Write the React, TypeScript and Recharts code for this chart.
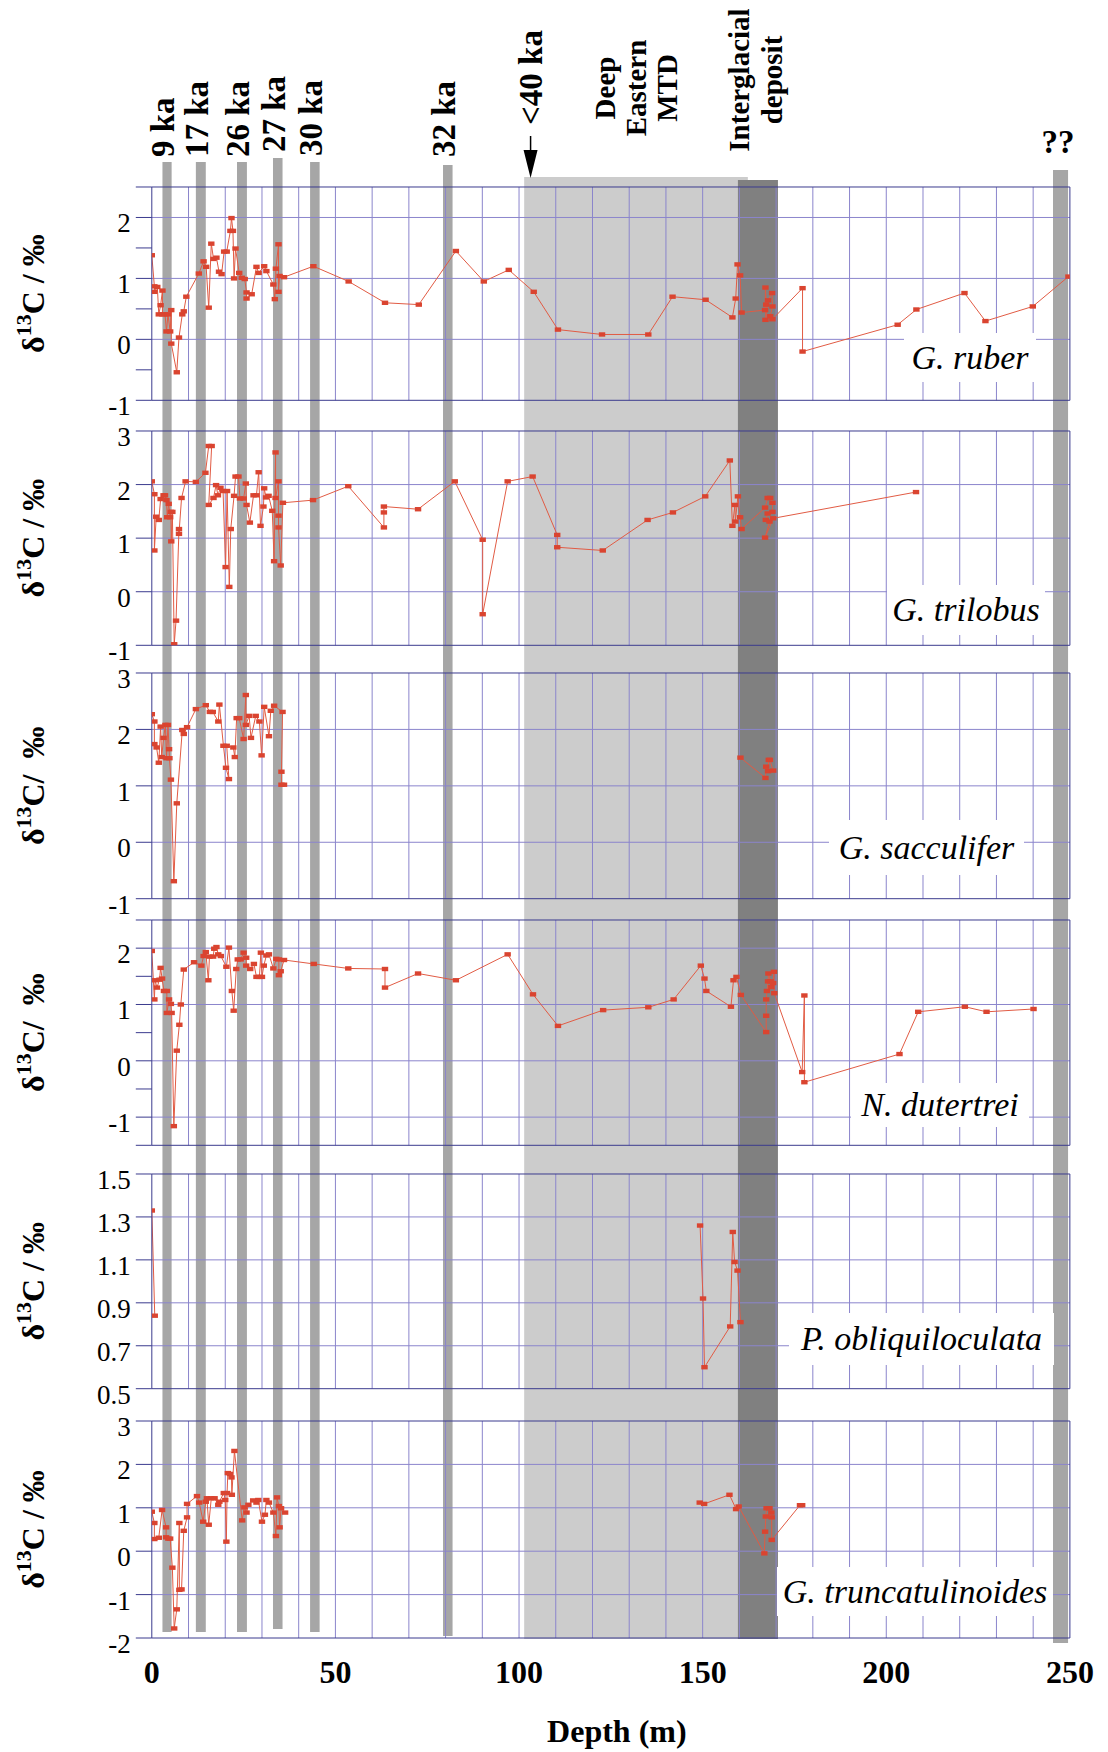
import React from "react";
import {
  ComposedChart,
  LineChart,
  Line,
  XAxis,
  YAxis,
  ReferenceLine,
  ReferenceArea,
} from "recharts";

type Pt = [number, number];

const SERIF = '"Liberation Serif", "Times New Roman", Times, serif';
const NAVY = "#3a3a8e";
const GRID = "#8b85cc";
const DOT = "#da4430";
const STROKE = "#e15a43";

// depth axis (m)
const depthTicks = [0, 50, 100, 150, 200, 250];
const depthGrid = [10, 20, 30, 40, 50, 60, 70, 80, 90, 100, 110, 120, 130, 140, 150, 160, 170, 180, 190, 200, 210, 220, 230, 240];

// shaded intervals along depth
const bandText = [["9 ka"], ["17 ka"], ["26 ka"], ["27 ka"], ["30 ka"], ["32 ka"], ["Deep", "Eastern", "MTD"], ["Interglacial", "deposit"], ["??"]];
const bandFrom = [2.9, 12.0, 23.2, 33.0, 43.1, 79.3, 101.4, 159.6, 245.4];
const bandTo = [5.4, 14.7, 25.9, 35.6, 45.7, 81.9, 162.3, 170.5, 249.5];

// d13C series: [depth, value]
const ruber: Pt[] = [
  [0, 1.38], [0.7, 0.87], [0.7, 0.78], [1.5, 0.86], [1.9, 0.41], [2.4, 0.56], [2.9, 0.8], [2.9, 0.41], [3.6, 0.41], [4.0, 0.13],
  [4.4, 0.41], [5.0, 0.13], [5.3, 0.48], [5.3, -0.07], [6.8, -0.54], [7.4, 0.03], [8.3, 0.41], [8.7, 0.46], [9.4, 0.7], [12.8, 1.08],
  [14.1, 1.28], [14.8, 1.19], [15.5, 0.52], [16.2, 1.57], [16.8, 1.32], [17.6, 1.34], [18.3, 1.11], [19.0, 1.07], [19.7, 1.44], [20.4, 1.44],
  [21.4, 1.78], [21.7, 1.99], [22.1, 1.78], [22.4, 1.0], [22.8, 1.49], [23.8, 1.09], [24.5, 1.01], [25.3, 0.99], [25.8, 0.77], [25.8, 0.67],
  [27.2, 0.74], [28.5, 1.19], [29.1, 1.09], [30.6, 1.2], [31.2, 1.12], [33.1, 0.9], [33.5, 0.66], [33.8, 1.16], [34.5, 1.56], [34.5, 0.78],
  [34.8, 1.04], [36.0, 1.02], [44.0, 1.2], [53.6, 0.95], [63.5, 0.6], [72.7, 0.57], [82.8, 1.45], [90.4, 0.95], [97.2, 1.14], [104.0, 0.78],
  [110.6, 0.16], [122.6, 0.08], [135.2, 0.08], [141.8, 0.7], [150.8, 0.65], [158.1, 0.36], [159.0, 0.67], [159.5, 1.23], [160.2, 1.05], [160.6, 0.44],
  [167.0, 0.48], [167.1, 0.85], [167.3, 0.57], [167.1, 0.32], [167.8, 0.64], [168.9, 0.76], [169.0, 0.54], [168.4, 0.38], [169.0, 0.33], [177.2, 0.84],
  [177.2, -0.2], [203.1, 0.24], [208.2, 0.49], [221.3, 0.76], [227.0, 0.3], [239.9, 0.54], [249.6, 1.03],
];

const trilobus: Pt[] = [
  [0, 2.06], [0.7, 1.82], [0.7, 0.77], [1.2, 1.4], [1.9, 1.34], [2.4, 1.73], [3.2, 1.8], [3.6, 1.8], [4.0, 1.71], [4.2, 1.39],
  [4.6, 1.64], [5.0, 1.39], [5.2, 1.49], [5.3, 0.94], [5.6, 1.49], [6.1, -0.98], [6.6, -0.54], [7.4, 1.17], [7.4, 1.08], [8.1, 1.75],
  [9.2, 2.06], [12.0, 2.05], [14.6, 2.22], [15.5, 2.72], [16.3, 2.72], [15.5, 1.62], [16.8, 1.75], [17.5, 1.99], [18.0, 1.8], [18.7, 1.94],
  [19.4, 1.88], [20.1, 0.46], [20.5, 1.88], [21.1, 0.09], [21.5, 1.17], [22.4, 1.79], [22.8, 2.15], [23.6, 2.15], [24.0, 1.74], [25.0, 1.74],
  [25.6, 2.02], [25.8, 1.62], [26.7, 1.29], [27.7, 1.8], [28.5, 1.8], [29.1, 2.23], [29.6, 1.23], [30.4, 1.59], [30.6, 1.93], [31.1, 1.76],
  [31.8, 1.79], [32.8, 1.51], [33.3, 0.57], [33.7, 2.6], [33.7, 1.75], [34.5, 2.06], [34.5, 1.42], [34.5, 1.2], [35.1, 0.49], [35.7, 1.66],
  [43.9, 1.71], [53.5, 1.97], [63.2, 1.2], [63.2, 1.48], [63.2, 1.59], [72.5, 1.54], [82.5, 2.06], [90.1, 0.97], [90.1, -0.42], [96.9, 2.06],
  [103.7, 2.15], [110.4, 1.06], [110.4, 0.83], [122.8, 0.77], [135.0, 1.34], [141.9, 1.48], [150.7, 1.78], [157.4, 2.45], [158.1, 1.23], [158.8, 1.62],
  [158.9, 1.31], [159.6, 1.78], [160.2, 1.39], [160.6, 1.17], [167.0, 1.57], [167.7, 1.75], [168.4, 1.75], [169.0, 1.66], [169.0, 1.49], [167.7, 1.46],
  [167.2, 1.34], [168.2, 1.31], [167.0, 1.01], [169.2, 1.37], [208.1, 1.86],
];

const sacculiferUpper: Pt[] = [
  [0, 2.27], [0.7, 2.14], [0.7, 1.74], [1.3, 1.68], [1.9, 1.41], [2.4, 2.05], [2.7, 1.51], [3.2, 1.85], [3.7, 2.08], [4.0, 1.49],
  [4.4, 2.08], [4.7, 1.65], [4.8, 1.49], [5.2, 1.11], [6.0, -0.69], [6.8, 0.69], [8.3, 1.99], [8.7, 1.92], [9.6, 2.04], [12.0, 2.36],
  [14.7, 2.43], [15.8, 2.31], [16.6, 2.31], [18.1, 2.14], [18.4, 2.44], [19.5, 1.71], [20.2, 1.32], [21.0, 1.12], [20.4, 1.71], [22.2, 1.68],
  [22.6, 1.51], [23.1, 2.2], [23.8, 2.2], [25.0, 1.83], [25.6, 2.61], [25.6, 2.08], [26.5, 2.24], [27.0, 1.85], [28.3, 2.24], [29.3, 2.14],
  [29.9, 1.54], [30.6, 2.4], [31.9, 1.88], [32.4, 2.33], [33.3, 2.42], [35.6, 2.31], [35.3, 1.25], [35.3, 1.02], [36.0, 1.02],
];
const sacculiferLower: Pt[] = [
  [160.3, 1.5], [167.1, 1.14], [167.3, 1.34], [167.8, 1.26], [168.0, 1.46], [168.3, 1.46], [169.2, 1.27],
];

const dutertrei: Pt[] = [
  [0, 1.95], [0.7, 1.09], [0.9, 1.43], [1.4, 1.3], [2.1, 1.44], [2.4, 1.65], [2.8, 1.46], [3.3, 1.24], [4.1, 1.24], [4.1, 0.85],
  [4.7, 1.09], [5.2, 1.01], [5.4, 0.85], [6.0, -1.16], [6.8, 0.18], [7.5, 0.64], [7.9, 1.0], [8.7, 1.62], [11.5, 1.75], [13.5, 1.69],
  [14.1, 1.86], [14.7, 1.93], [15.4, 1.43], [15.7, 1.85], [16.7, 1.85], [17.0, 1.99], [17.6, 2.02], [18.1, 1.89], [18.8, 1.86], [20.3, 1.67],
  [21.0, 2.01], [21.8, 1.24], [22.3, 0.89], [23.0, 1.63], [23.4, 1.8], [24.2, 1.8], [25.0, 1.92], [25.7, 1.83], [25.7, 1.69], [26.8, 1.63],
  [27.8, 1.72], [28.5, 1.49], [29.3, 1.49], [29.7, 1.92], [30.0, 1.49], [30.5, 1.69], [31.2, 1.87], [31.9, 1.89], [33.1, 1.64], [33.9, 1.81],
  [34.6, 1.8], [34.6, 1.52], [35.1, 1.59], [36.0, 1.79], [44.1, 1.72], [53.5, 1.64], [63.5, 1.63], [63.5, 1.3], [72.5, 1.55], [82.8, 1.43],
  [96.9, 1.89], [103.8, 1.18], [110.6, 0.62], [122.9, 0.9], [135.2, 0.95], [142.1, 1.09], [149.5, 1.69], [150.5, 1.46], [151.0, 1.24], [157.7, 0.96],
  [158.4, 1.43], [159.2, 1.49], [160.4, 1.17], [167.3, 0.51], [167.3, 0.8], [167.3, 1.09], [167.5, 1.24], [167.8, 1.41], [167.9, 1.55], [168.5, 1.41],
  [168.7, 1.31], [169.2, 1.38], [169.4, 1.58], [169.5, 1.2], [177.1, -0.2], [177.7, 1.16], [177.7, -0.38], [203.6, 0.12], [208.7, 0.87], [221.4, 0.96],
  [227.3, 0.87], [240.1, 0.92],
];

const obliquiloculataUpper: Pt[] = [[0, 1.33], [0.8, 0.84]];
const obliquiloculataLower: Pt[] = [
  [149.3, 1.26], [150.1, 0.92], [150.5, 0.6], [157.5, 0.79], [158.2, 1.23], [158.7, 1.09], [159.5, 1.05], [160.3, 0.81],
];

const truncatulinoidesUpper: Pt[] = [
  [0, 0.91], [0.7, 0.65], [0.7, 0.28], [1.9, 0.31], [2.8, 0.95], [3.9, 0.55], [3.9, 0.32], [4.5, 0.29], [5.0, 0.29], [5.6, -0.38],
  [6.1, -1.78], [6.8, -1.34], [7.5, 0.65], [7.5, -0.89], [8.1, -0.88], [8.7, 0.47], [9.6, 0.78], [9.6, 1.09], [12.3, 1.27], [12.9, 1.12],
  [14.0, 0.68], [14.7, 1.14], [15.0, 1.22], [15.5, 0.61], [16.2, 1.22], [17.1, 1.22], [18.1, 1.07], [18.4, 1.14], [19.6, 1.34], [20.0, 1.18],
  [20.3, 0.22], [20.5, 1.34], [20.7, 1.8], [21.3, 1.78], [21.7, 1.7], [21.8, 1.3], [22.5, 2.31], [24.6, 0.71], [25.2, 1.01], [25.8, 0.89],
  [26.3, 1.07], [27.6, 1.17], [28.5, 1.12], [29.0, 1.18], [30.0, 0.68], [30.8, 0.84], [31.2, 1.18], [31.9, 1.12], [33.1, 0.89], [33.8, 0.35],
  [34.1, 1.24], [34.6, 1.04], [34.8, 0.55], [35.2, 0.99], [36.3, 0.89],
];
const truncatulinoidesLower: Pt[] = [
  [149.2, 1.12], [150.4, 1.09], [157.3, 1.3], [159.1, 0.97], [159.8, 1.03], [166.8, -0.05], [167.0, 0.45], [167.2, 0.8], [167.4, 0.99], [168.2, 0.99],
  [168.7, 0.89], [168.8, 0.78], [168.8, 0.26], [176.5, 1.06], [177.1, 1.06],
];

const speciesNames = ["G. ruber", "G. trilobus", "G. sacculifer", "N. dutertrei", "P. obliquiloculata", "G. truncatulinoides"];
const speciesSegments: Pt[][][] = [
  [ruber],
  [trilobus],
  [sacculiferUpper, sacculiferLower],
  [dutertrei],
  [obliquiloculataUpper, obliquiloculataLower],
  [truncatulinoidesUpper, truncatulinoidesLower],
];
const yDomains: [number, number][] = [[-1, 2.5], [-1, 3], [-1, 3], [-1.5, 2.5], [0.5, 1.5], [-2, 3]];
const yTicks = [
  [-1, -0.5, 0, 0.5, 1, 1.5, 2, 2.5],
  [-1, 0, 1, 2, 3],
  [-1, 0, 1, 2, 3],
  [-1.5, -1, -0.5, 0, 0.5, 1, 1.5, 2, 2.5],
  [0.5, 0.7, 0.9, 1.1, 1.3, 1.5],
  [-2, -1, 0, 1, 2, 3],
];
const yGrid = [[0, 1, 2], [0, 1, 2], [0, 1, 2], [-1, 0, 1, 2], [0.7, 0.9, 1.1, 1.3], [-1, 0, 1, 2]];
const yDecimals = [0, 0, 0, 0, 1, 0];
const yTitleTail = [" / ‰", " / ‰", "/  ‰", "/  ‰", " / ‰", " / ‰"];

// layout (page pixels)
const PAGE_W = 1108;
const PAGE_H = 1752;
const PLOT_LEFT = 151.8;
const PLOT_RIGHT = 1069.9;
const AXIS_W = 140;
const panelTop = [186.7, 430.7, 673.3, 920, 1174.3, 1421.3];
const panelBottom = [400, 645, 899, 1145.3, 1389, 1638.3];
const nameBox = [
  [904, 333, 132, 49],
  [887, 585, 158, 50],
  [829, 820, 195, 55],
  [851, 1083, 178, 44],
  [789, 1313, 265, 52],
  [777, 1567, 276, 49],
];
const bandOrder = [6, 7, 0, 1, 2, 3, 4, 5, 8];
const bandFill = ["#a6a6a6", "#a6a6a6", "#a6a6a6", "#a6a6a6", "#a6a6a6", "#a6a6a6", "#cccccc", "#808080", "#a6a6a6"];
const bandTopPx = [162, 162, 162, 158, 162, 165, 177, 180, 170];
const bandBottomPx = [1632, 1632, 1632, 1629, 1632, 1636, 1639, 1639, 1643];
const bandLabelBase = [157, 157, 157, 152, 156, 157, 88, 80, 153];

function BandLabel({ vb, i }: { vb: any; i: number }) {
  if (!vb) return null;
  const cx = vb.x + vb.width / 2;
  const lines = bandText[i];
  const common = { fontFamily: SERIF, fontWeight: "bold" as const, fill: "#000" };
  if (i === 8) {
    return (
      <text x={cx - 2.5} y={bandLabelBase[i]} textAnchor="middle" fontSize={33} {...common}>
        {lines[0]}
      </text>
    );
  }
  if (lines.length > 1) {
    const gap = i === 6 ? 31.3 : 32.8;
    const shift = i === 6 ? 0 : -2.6;
    const y = bandLabelBase[i];
    const extra =
      i === 6 ? (
        <g>
          <text
            transform={`rotate(-90 ${vb.x + 6.4} 125)`}
            x={vb.x + 6.4}
            y={125}
            dominantBaseline="central"
            fontSize={33}
            {...common}
          >
            {"<40 ka"}
          </text>
          <line x1={vb.x + 6.4} y1={136} x2={vb.x + 6.4} y2={152} stroke="#000" strokeWidth={1.5} />
          <path d={`M${vb.x - 0.6},150 L${vb.x + 13.4},150 L${vb.x + 6.4},178 Z`} fill="#000" />
        </g>
      ) : null;
    return (
      <g>
        {extra}
        {lines.map((t, k) => {
          const x = cx + shift + (k - (lines.length - 1) / 2) * gap;
          return (
            <text
              key={t}
              transform={`rotate(-90 ${x} ${y})`}
              x={x}
              y={y}
              textAnchor="middle"
              dominantBaseline="central"
              fontSize={29}
              {...common}
            >
              {t}
            </text>
          );
        })}
      </g>
    );
  }
  const x = cx - 4;
  const y = bandLabelBase[i];
  return (
    <text transform={`rotate(-90 ${x} ${y})`} x={x} y={y} dominantBaseline="central" fontSize={33} {...common}>
      {lines[0]}
    </text>
  );
}

function Bands() {
  return (
    <div style={{ position: "absolute", left: 0, top: 0 }}>
      <ComposedChart
        width={PAGE_W}
        height={PAGE_H}
        margin={{ top: 0, right: PAGE_W - PLOT_RIGHT, bottom: 0, left: PLOT_LEFT }}
      >
        <XAxis type="number" dataKey="d" domain={[0, 250]} allowDataOverflow hide height={0} />
        <YAxis type="number" domain={[0, PAGE_H]} allowDataOverflow reversed hide width={0} />
        {bandOrder.map((i) => (
          <ReferenceArea
            key={`band${i}`}
            x1={bandFrom[i]}
            x2={bandTo[i]}
            y1={bandTopPx[i]}
            y2={bandBottomPx[i]}
            fill={bandFill[i]}
            fillOpacity={1}
            stroke="none"
            ifOverflow="visible"
            label={(p: any) => <BandLabel vb={p.viewBox} i={i} />}
          />
        ))}
      </ComposedChart>
    </div>
  );
}

const square = (p: any) => {
  if (p.cx == null || p.cy == null) return <g key={`m${p.index}`} />;
  return <rect key={`m${p.index}`} x={p.cx - 3.2} y={p.cy - 2.2} width={6.4} height={4.4} fill={DOT} />;
};

function Panel({ i }: { i: number }) {
  const last = i === speciesNames.length - 1;
  const plotH = panelBottom[i] - panelTop[i];
  const xAxisH = last ? 120 : 0;
  const height = plotH + 20 + (last ? xAxisH : 20);
  const [lo, hi] = yDomains[i];
  const dec = yDecimals[i];
  return (
    <div style={{ position: "absolute", left: 0, top: panelTop[i] - 20, width: PAGE_W, height }}>
      <LineChart
        width={PAGE_W}
        height={height}
        margin={{ top: 20, right: PAGE_W - PLOT_RIGHT, bottom: last ? 0 : 20, left: PLOT_LEFT - AXIS_W }}
      >
        <XAxis
          type="number"
          dataKey="d"
          domain={[0, 250]}
          allowDataOverflow
          ticks={depthTicks}
          interval={0}
          hide={!last}
          height={xAxisH}
          axisLine={false}
          tickLine={false}
          tickSize={0}
          tickMargin={0}
          tick={(p: any) => (
            <text x={p.x} y={p.y + 45} textAnchor="middle" fontFamily={SERIF} fontWeight="bold" fontSize={32} fill="#000">
              {p.payload.value}
            </text>
          )}
          label={(p: any) =>
            p.viewBox ? (
              <text
                x={p.viewBox.x + p.viewBox.width / 2 + 6}
                y={p.viewBox.y + 104}
                textAnchor="middle"
                fontFamily={SERIF}
                fontWeight="bold"
                fontSize={32}
                fill="#000"
              >
                Depth (m)
              </text>
            ) : null
          }
        />
        <YAxis
          type="number"
          domain={[lo, hi]}
          allowDataOverflow
          ticks={yTicks[i]}
          interval={0}
          width={AXIS_W}
          tickSize={16}
          tickMargin={5}
          axisLine={{ stroke: NAVY, strokeWidth: 1 }}
          tickLine={{ stroke: NAVY, strokeWidth: 1 }}
          tick={(p: any) => {
            const v = p.payload.value as number;
            const txt = dec > 0 ? v.toFixed(dec) : Number.isInteger(v) ? String(v) : "";
            return (
              <text x={p.x} y={p.y + 15} textAnchor="end" fontFamily={SERIF} fontSize={27} fill="#000">
                {txt}
              </text>
            );
          }}
          label={(p: any) => {
            const vb = p.viewBox;
            if (!vb) return null;
            const cy = vb.y + vb.height / 2;
            const x = 44;
            return (
              <text
                transform={`rotate(-90 ${x} ${cy})`}
                x={x}
                y={cy}
                textAnchor="middle"
                fontFamily={SERIF}
                fontWeight="bold"
                fontSize={32}
                fill="#000"
                style={{ whiteSpace: "pre" }}
              >
                δ
                <tspan fontSize={22} dy={-13}>
                  13
                </tspan>
                <tspan dy={13}>{"C" + yTitleTail[i]}</tspan>
              </text>
            );
          }}
        />
        {yGrid[i].map((v) => (
          <ReferenceLine key={`h${v}`} y={v} stroke={GRID} strokeWidth={1} />
        ))}
        {depthGrid.map((v) => (
          <ReferenceLine key={`v${v}`} x={v} stroke={GRID} strokeWidth={1} />
        ))}
        <ReferenceLine y={hi} stroke={NAVY} strokeWidth={1} />
        <ReferenceLine y={lo} stroke={NAVY} strokeWidth={1} />
        <ReferenceLine x={250} stroke={NAVY} strokeWidth={1} />
        {speciesSegments[i].map((seg, k) => (
          <Line
            key={`s${k}`}
            data={seg.map(([d, v]) => ({ d, v }))}
            dataKey="v"
            type="linear"
            stroke={STROKE}
            strokeWidth={1}
            dot={square}
            activeDot={false}
            isAnimationActive={false}
          />
        ))}
      </LineChart>
    </div>
  );
}

export default function App() {
  return (
    <div
      style={{
        position: "absolute",
        left: 0,
        top: 0,
        width: PAGE_W,
        height: PAGE_H,
        background: "#fff",
        fontFamily: SERIF,
        overflow: "hidden",
      }}
    >
      <Bands />
      {speciesNames.map((_, i) => (
        <Panel key={i} i={i} />
      ))}
      {speciesNames.map((name, i) => {
        const [l, t, w, h] = nameBox[i];
        return (
          <div
            key={name}
            style={{
              position: "absolute",
              left: l,
              top: t,
              width: w,
              height: h,
              lineHeight: `${h}px`,
              background: "#fff",
              textAlign: "center",
              fontStyle: "italic",
              fontSize: 34,
              fontFamily: SERIF,
              whiteSpace: "nowrap",
              color: "#000",
            }}
          >
            {name}
          </div>
        );
      })}
    </div>
  );
}
